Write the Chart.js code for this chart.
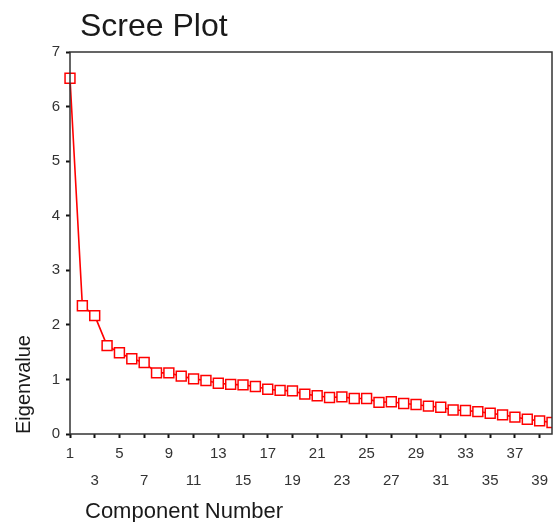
<!DOCTYPE html>
<html>
<head>
<meta charset="utf-8">
<script src="https://cdn.jsdelivr.net/npm/chart.js@4.4.1/dist/chart.umd.min.js"></script>
<style>
  html, body { margin: 0; padding: 0; background: #fff; }
</style>
</head>
<body>
<canvas id="scree" width="555" height="522"></canvas>
<script>
// scree plot data
const components = [1, 2, 3, 4, 5, 6, 7, 8, 9, 10, 11, 12, 13, 14, 15, 16, 17, 18, 19, 20,
  21, 22, 23, 24, 25, 26, 27, 28, 29, 30, 31, 32, 33, 34, 35, 36, 37, 38, 39, 40];
const eigenvalues = [6.52, 2.35, 2.17, 1.62, 1.49, 1.38, 1.31, 1.12, 1.12, 1.06,
  1.01, 0.98, 0.93, 0.91, 0.90, 0.87, 0.82, 0.80, 0.79, 0.73,
  0.70, 0.67, 0.68, 0.65, 0.65, 0.58, 0.59, 0.56, 0.54, 0.51,
  0.49, 0.44, 0.43, 0.41, 0.38, 0.35, 0.31, 0.27, 0.24, 0.21];
const xTickValues = [1, 3, 5, 7, 9, 11, 13, 15, 17, 19, 21, 23, 25, 27, 29, 31, 33, 35, 37, 39];
const yTickValues = [0, 1, 2, 3, 4, 5, 6, 7];

const chartTitle = 'Scree Plot';
const xTitle = 'Component Number';
const yTitle = 'Eigenvalue';

const FONT = '"Liberation Sans", Arial, sans-serif';

// box around the plot + the two titles SPSS puts off-centre
const screeDecor = {
  id: 'screeDecor',
  afterDatasetsDraw(chart) {
    const { ctx, chartArea: a } = chart;
    ctx.save();
    ctx.strokeStyle = '#333';
    ctx.lineWidth = 1.5;
    ctx.strokeRect(a.left, a.top, a.right - a.left, a.bottom - a.top);
    ctx.restore();
  },
  afterDraw(chart) {
    const { ctx, chartArea: a } = chart;
    ctx.save();
    ctx.fillStyle = '#1a1a1a';
    ctx.textBaseline = 'alphabetic';
    ctx.font = '32px ' + FONT;
    ctx.fillText(chartTitle, 80, 36);
    ctx.font = '22px ' + FONT;
    ctx.textBaseline = 'middle';
    ctx.fillText(xTitle, a.left + 15, 512);
    ctx.restore();
  }
};

new Chart(document.getElementById('scree'), {
  type: 'line',
  data: {
    datasets: [{
      label: yTitle,
      data: components.map((c, i) => ({ x: c, y: eigenvalues[i] })),
      borderColor: '#ff0000',
      borderWidth: 1.6,
      tension: 0,
      clip: { left: 10, top: 10, right: 0, bottom: 10 },
      pointStyle: 'rect',
      pointRadius: 7,
      pointBorderWidth: 1.5,
      pointBorderColor: '#ff0000',
      pointBackgroundColor: '#ffffff'
    }]
  },
  options: {
    responsive: false,
    animation: false,
    events: [],
    // no auto padding: the last square is cut by the frame like in SPSS
    layout: { autoPadding: false, padding: { top: 52, right: 3, left: 0, bottom: 0 } },
    plugins: { legend: { display: false }, tooltip: { enabled: false } },
    scales: {
      x: {
        type: 'linear',
        min: 1,
        max: 40,
        afterBuildTicks: s => { s.ticks = xTickValues.map(v => ({ value: v })); },
        afterFit: s => { s.height = 88; s.paddingLeft = 0; s.paddingRight = 0; },
        grid: { drawOnChartArea: false, tickLength: 4, tickWidth: 2, tickColor: '#111' },
        border: { display: false },
        ticks: {
          autoSkip: false,
          maxRotation: 0,
          padding: 2,
          color: '#333',
          font: { family: FONT, size: 15, lineHeight: 1.8 },
          // alternate labels between two rows
          callback: (v, i) => (i % 2 === 0 ? String(v) : ['', String(v)])
        }
      },
      y: {
        min: 0,
        max: 7,
        afterBuildTicks: s => { s.ticks = yTickValues.map(v => ({ value: v })); },
        afterFit: s => { s.width = 70; },
        grid: { drawOnChartArea: false, tickLength: 4, tickWidth: 2, tickColor: '#111' },
        border: { display: false },
        ticks: { padding: 6, color: '#333', font: { family: FONT, size: 15 } },
        title: {
          display: true,
          text: yTitle,
          align: 'start',
          color: '#1a1a1a',
          font: { family: FONT, size: 20 },
          padding: { top: 12, bottom: 0 }
        }
      }
    }
  },
  plugins: [screeDecor]
});
</script>
</body>
</html>
